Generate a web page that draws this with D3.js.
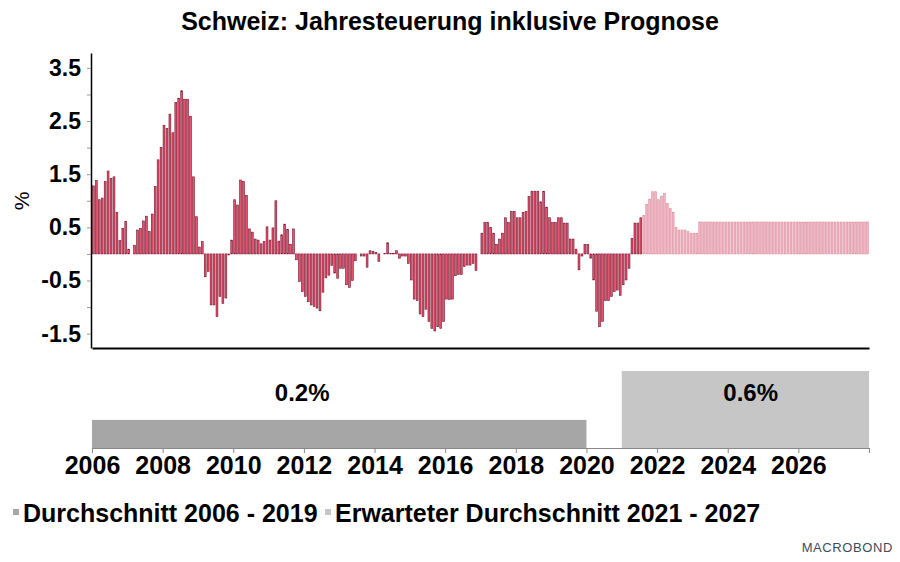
<!DOCTYPE html>
<html>
<head>
<meta charset="utf-8">
<script src="https://cdn.jsdelivr.net/npm/d3@7"></script>
<style>
  body { margin: 0; background: #fff; }
  svg { display: block; font-family: "Liberation Sans", Arial, sans-serif; }
</style>
</head>
<body>
<div id="chart"></div>
<script>
// monthly yoy inflation, Jan 2006 - Jul 2021 (actual)
var actual = [
  1.28, 1.38, 1.02, 1.05, 1.36, 1.56, 1.42, 1.45, 0.78, 0.25, 0.48, 0.61,   // 2006
  0.09, 0.00, 0.16, 0.45, 0.48, 0.62, 0.71, 0.42, 0.75, 1.27, 1.77, 2.00,   // 2007
  2.42, 2.36, 2.63, 2.28, 2.85, 2.93, 3.07, 2.91, 2.91, 2.59, 1.45, 0.70,   // 2008
  0.13, 0.23, -0.43, -0.33, -0.96, -0.96, -1.18, -0.80, -0.93, -0.83, -0.02, 0.26, // 2009
  1.02, 0.92, 1.39, 1.36, 1.10, 0.47, 0.41, 0.28, 0.26, 0.19, 0.23, 0.51,   // 2010
  0.26, 0.49, 1.00, 0.24, 0.36, 0.56, 0.46, 0.18, 0.47, -0.11, -0.52, -0.71, // 2011
  -0.80, -0.90, -0.96, -0.99, -1.02, -1.07, -0.72, -0.45, -0.40, -0.22, -0.36, -0.46, // 2012
  -0.27, -0.27, -0.58, -0.63, -0.50, -0.13, 0.00, -0.04, -0.04, -0.25, 0.06, 0.05, // 2013
  0.03, -0.14, 0.00, 0.01, 0.21, 0.01, 0.01, 0.06, -0.08, -0.04, -0.04, -0.18, // 2014
  -0.49, -0.85, -0.88, -1.13, -1.18, -1.04, -1.27, -1.40, -1.45, -1.37, -1.40, -1.27, // 2015
  -0.85, -0.86, -0.85, -0.41, -0.39, -0.39, -0.24, -0.21, -0.21, -0.18, -0.31, 0.00, // 2016
  0.39, 0.59, 0.59, 0.50, 0.39, 0.18, 0.28, 0.39, 0.68, 0.59, 0.80, 0.80,   // 2017
  0.68, 0.68, 0.78, 0.80, 1.08, 1.18, 1.18, 1.18, 0.98, 1.18, 0.88, 0.68,   // 2018
  0.59, 0.59, 0.68, 0.68, 0.58, 0.58, 0.28, 0.28, 0.09, -0.30, -0.04, 0.18, // 2019
  0.18, -0.08, -0.49, -1.08, -1.37, -1.27, -0.88, -0.88, -0.80, -0.71, -0.68, -0.78, // 2020
  -0.58, -0.49, -0.27, 0.29, 0.58, 0.58, 0.68                               // 2021 Jan-Jul
];

// forecast, Aug 2021 - Dec 2027
var forecast = [
  0.72, 0.93, 1.03, 1.17, 1.17,                                            // 2021 Aug-Dec
  1.02, 1.09, 1.14, 0.95, 0.86, 0.78, 0.50, 0.45, 0.45, 0.45, 0.42, 0.39,   // 2022
  0.39, 0.39, 0.60, 0.60, 0.60, 0.60, 0.60, 0.60, 0.60, 0.60, 0.60, 0.60,   // 2023
  0.60, 0.60, 0.60, 0.60, 0.60, 0.60, 0.60, 0.60, 0.60, 0.60, 0.60, 0.60,   // 2024
  0.60, 0.60, 0.60, 0.60, 0.60, 0.60, 0.60, 0.60, 0.60, 0.60, 0.60, 0.60,   // 2025
  0.60, 0.60, 0.60, 0.60, 0.60, 0.60, 0.60, 0.60, 0.60, 0.60, 0.60, 0.60,   // 2026
  0.60, 0.60, 0.60, 0.60, 0.60, 0.60, 0.60, 0.60, 0.60, 0.60, 0.60, 0.60    // 2027
];

// period averages for the lower panel
var avgLabels = ["Durchschnitt 2006 - 2019", "Erwarteter Durchschnitt 2021 - 2027"];
var avgStart = [2006, 2021];
var avgEnd = [2020, 2028];
var avgValues = [0.2, 0.6];

var yMajorTicks = [-1.5, -0.5, 0.5, 1.5, 2.5, 3.5];
var yMinorTicks = [-1.0, 0.0, 1.0, 2.0, 3.0];
var xTicks = d3.range(2006, 2029, 2);

var width = 900, height = 562;

var svg = d3.select("#chart")
    .append("svg")
    .attr("width", width)
    .attr("height", height);

var x = d3.scaleLinear().domain([2006, 2028]).range([92, 869]);
var y = d3.scaleLinear().domain([-1.77, 3.78]).range([348, 53]);
var yAvg = d3.scaleLinear().domain([-0.03, 0.6]).range([448, 371]);

var monthW = x(2006 + 1 / 12) - x(2006);

// title
svg.append("text")
    .attr("x", 450)
    .attr("y", 30)
    .attr("text-anchor", "middle")
    .style("font-size", "25px")
    .style("font-weight", "bold")
    .text("Schweiz: Jahresteuerung inklusive Prognose");

// monthly bars
var bars = actual.map(function(v, i) { return { i: i, v: v, fc: false }; })
    .concat(forecast.map(function(v, i) { return { i: actual.length + i, v: v, fc: true }; }));

svg.append("g")
    .selectAll("rect")
    .data(bars)
    .enter().append("rect")
    .attr("x", function(d) { return x(2006 + d.i / 12) + 0.45; })
    .attr("width", monthW - 1.1)
    .attr("y", function(d) { return y(Math.max(0, d.v)); })
    .attr("height", function(d) { return Math.abs(y(d.v) - y(0)); })
    .attr("fill", function(d) { return d.fc ? "#f3b6c3" : "#e0566f"; })
    .attr("stroke", function(d) { return d.fc ? "#d98ea0" : "#7d0f2c"; })
    .attr("stroke-width", 0.6);

// y axis
var yAxisMinor = svg.append("g")
    .attr("transform", "translate(91,0)")
    .call(d3.axisLeft(y).tickValues(yMinorTicks).tickSize(4).tickFormat(""));
yAxisMinor.select(".domain").remove();
yAxisMinor.selectAll("line").attr("stroke", "#999");

var yAxis = svg.append("g")
    .attr("transform", "translate(91,0)")
    .call(d3.axisLeft(y).tickValues(yMajorTicks).tickSize(4).tickSizeOuter(0)
        .tickFormat(function(d) { return d.toFixed(1); }));
yAxis.select(".domain").attr("stroke", "#000").attr("stroke-width", 1.5);
yAxis.selectAll(".tick line").attr("stroke", "#999");
yAxis.selectAll("text")
    .attr("x", -10)
    .style("font-size", "23px")
    .style("font-weight", "bold")
    .style("font-family", "Liberation Sans, Arial, sans-serif")
    .attr("fill", "#000");

svg.append("text")
    .attr("transform", "translate(29,201) rotate(-90)")
    .attr("text-anchor", "middle")
    .style("font-size", "21px")
    .text("%");

// bottom line of upper panel
var xTop = svg.append("g")
    .attr("transform", "translate(0,348)")
    .call(d3.axisBottom(x).tickValues([]).tickSizeOuter(0));
xTop.select(".domain").attr("stroke", "#000").attr("stroke-width", 2);

// lower panel: period averages
svg.append("g")
    .selectAll("rect")
    .data(avgValues)
    .enter().append("rect")
    .attr("x", function(d, i) { return x(avgStart[i]); })
    .attr("width", function(d, i) { return x(avgEnd[i]) - x(avgStart[i]); })
    .attr("y", function(d) { return yAvg(d); })
    .attr("height", function(d) { return yAvg.range()[0] - yAvg(d); })
    .attr("fill", function(d, i) { return i === 0 ? "#a6a6a6" : "#c6c6c6"; });

var labelAt = [2011.95, 2024.65];
svg.append("g")
    .selectAll("text")
    .data(avgValues)
    .enter().append("text")
    .attr("x", function(d, i) { return x(labelAt[i]); })
    .attr("y", 401)
    .attr("text-anchor", "middle")
    .style("font-size", "24px")
    .style("font-weight", "bold")
    .text(function(d) { return d.toFixed(1) + "%"; });

var xAxis = svg.append("g")
    .attr("transform", "translate(0,448)")
    .call(d3.axisBottom(x).tickValues(xTicks).tickSize(5).tickSizeOuter(0)
        .tickFormat(function(d) { return d === 2028 ? "" : d; }));
xAxis.select(".domain").attr("stroke", "#888");
xAxis.selectAll(".tick line").attr("stroke", "#888");
xAxis.selectAll("text")
    .attr("y", 8)
    .style("font-size", "25px")
    .style("font-weight", "bold")
    .style("font-family", "Liberation Sans, Arial, sans-serif")
    .attr("fill", "#000");

// legend
var legendX = [13, 325];
var legend = svg.append("g")
    .selectAll("g")
    .data(avgLabels)
    .enter().append("g")
    .attr("transform", function(d, i) { return "translate(" + legendX[i] + ",0)"; });
legend.append("rect")
    .attr("y", 509)
    .attr("width", 6)
    .attr("height", 6)
    .attr("fill", function(d, i) { return i === 0 ? "#a6a6a6" : "#c6c6c6"; });
legend.append("text")
    .attr("x", 10)
    .attr("y", 522)
    .style("font-size", "25px")
    .style("font-weight", "bold")
    .text(function(d) { return d; });

// logo
svg.append("text")
    .attr("x", 893)
    .attr("y", 552)
    .attr("text-anchor", "end")
    .style("font-size", "13px")
    .style("letter-spacing", "0.6px")
    .attr("fill", "#3d4b5c")
    .text("MACROBOND");
</script>
</body>
</html>
